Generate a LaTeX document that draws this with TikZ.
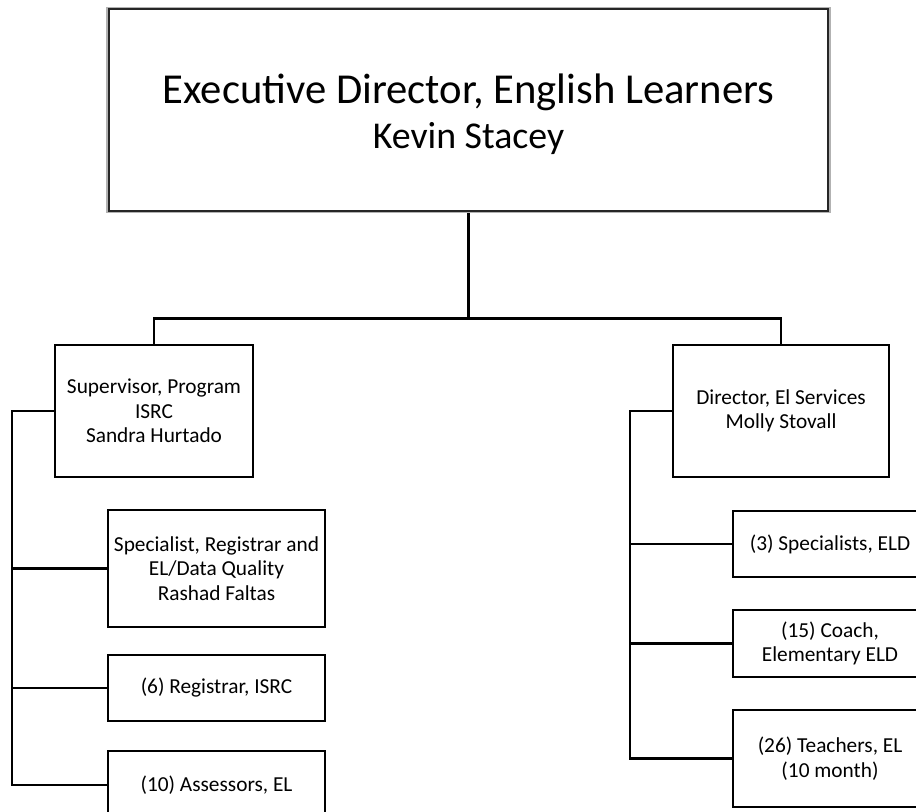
\documentclass[tikz,border=0pt]{standalone}
\usepackage{fontspec}
\setmainfont{Carlito}
\tikzset{
  post/.style={draw, line width=1.4pt, fill=white, inner sep=0pt, align=center,
    font=\fontsize{16}{18.4}\selectfont},
  link/.style={line width=2pt}
}
\begin{document}
\begin{tikzpicture}[x=0.75pt, y=-0.75pt]
        \useasboundingbox (0,0) rectangle (916,812);
        \clip (0,0) rectangle (916,812);
        %% top post
        \node[post, draw=gray!60, line width=1.8pt, minimum width=541.5pt, minimum height=153pt,
          font=\fontsize{32}{33.75}\selectfont] (exec) at (468.5,110)
          {\rule{0pt}{28pt}Executive Director, English Learners\\{\fontsize{28.4}{33.75}\selectfont Kevin Stacey}};
        \draw[black!85, line width=1.5pt] ([shift={(2.5,2.5)}]exec.north west) rectangle ([shift={(-2.5,-2.5)}]exec.south east);
        %% second level
        \node[post, minimum width=148.5pt, minimum height=99pt] (sup) at (154,411)
          {Supervisor, Program\\ISRC\\Sandra Hurtado};
        \node[post, minimum width=162pt, minimum height=99pt] (dir) at (781,411)
          {Director, El Services\\Molly Stovall};
        %% left branch
        \node[post, minimum width=162.75pt, minimum height=87.75pt] (spec) at (216.5,568.5)
          {Specialist, Registrar and\\EL/Data Quality\\Rashad Faltas};
        \node[post, minimum width=162.75pt, minimum height=49.5pt] (reg) at (216.5,688)
          {(6) Registrar, ISRC};
        \node[post, minimum width=162.75pt, minimum height=51pt] (ass) at (216.5,785)
          {(10) Assessors, EL};
        %% right branch
        \node[post, minimum width=145.5pt, minimum height=49.5pt] (eld) at (830,544)
          {(3) Specialists, ELD};
        \node[post, minimum width=145.5pt, minimum height=50pt] (coach) at (830,643.5)
          {(15) Coach,\\Elementary ELD};
        \node[post, minimum width=145.5pt, minimum height=72.75pt] (teach) at (830,758.5)
          {(26) Teachers, EL\\(10 month)};
        %% connectors
        \draw[link] (exec.south) -- ++(0,105) coordinate (bus) -| (sup.north);
        \draw[link] (bus) -| (dir.north);
        \foreach \c in {spec,reg,ass}
          \draw[link] (sup.west) -- ++(-42,0) |- (\c.west);
        \foreach \c in {eld,coach,teach}
          \draw[link] (dir.west) -- ++(-42,0) |- (\c.west);
    \end{tikzpicture}
\end{document}
